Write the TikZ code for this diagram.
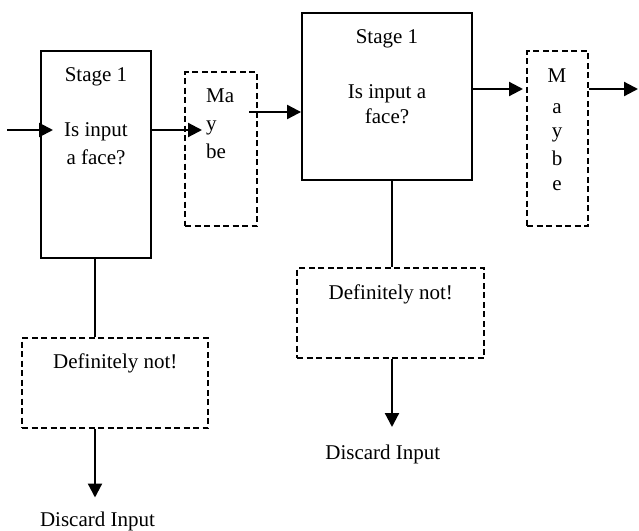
\documentclass[tikz,border=0pt]{standalone}
\usepackage{fontspec}
\setmainfont{Liberation Serif}
\usetikzlibrary{arrows.meta}
\begin{document}
\begin{tikzpicture}[x=1pt,y=-1pt,
  solidbox/.style={draw,line width=1.9pt,rectangle,inner sep=0pt},
  dashbox/.style={draw,line width=1.7pt,dash pattern=on 6pt off 3.5pt,rectangle,inner sep=0pt},
  lbl/.style={font=\fontsize{21}{25}\selectfont,inner sep=0pt,anchor=base},
  lblw/.style={lbl,anchor=base west},
  arr/.style={line width=2.2pt,-{Triangle[length=14pt,width=14pt]}},
  conn/.style={line width=1.4pt}]
\useasboundingbox (0,0) rectangle (639,530);
% boxes
\node[solidbox,minimum width=110pt,minimum height=207pt] (b1) at (96,154.5) {};
\node[solidbox,minimum width=170pt,minimum height=167pt] (b2) at (387,96.5) {};
\node[dashbox,minimum width=72pt,minimum height=154pt] (m1) at (221,149) {};
\node[dashbox,minimum width=61pt,minimum height=175pt] (m2) at (557.5,138.5) {};
\node[dashbox,minimum width=186pt,minimum height=90pt] (d1) at (115,383) {};
\node[dashbox,minimum width=187pt,minimum height=90pt] (d2) at (390.5,313) {};
% texts box 1
\node[lbl] (b1s) at (96,81.7) {Stage 1};
\node[lbl] (b1q) at (96,136.7) {Is input};
\node[lbl] (b1r) at (96,164) {a face?};
% texts box 2
\node[lbl] (b2s) at (387,43.3) {Stage 1};
\node[lbl] (b2q) at (387,98.3) {Is input a};
\node[lbl] (b2r) at (387,123.3) {face?};
% maybe 1
\node[lblw] (m1a) at (206,102.3) {Ma};
\node[lblw] (m1b) at (206,130) {y};
\node[lblw] (m1c) at (206,158.3) {be};
% maybe 2
\node[lbl] (m2a) at (557,82) {M};
\node[lbl] (m2b) at (557,113) {a};
\node[lbl] (m2c) at (557,137) {y};
\node[lbl] (m2d) at (557,165) {b};
\node[lbl] (m2e) at (557,190) {e};
% definitely not
\node[lbl] (d1t) at (115.3,368.3) {Definitely not!};
\node[lbl] (d2t) at (390.8,299.3) {Definitely not!};
% discard
\node[lbl] (x1) at (97.5,526.7) {Discard Input};
\node[lbl] (x2) at (382.8,459.3) {Discard Input};
% connectors
\coordinate (in) at (7,130);
\coordinate (t1) at (53,130);
\draw[arr] (in) -- (t1);
\coordinate (t2) at (202,130);
\draw[arr] (b1.east |- t2) -- (t2);
\coordinate (s3) at (249,112);
\draw[arr] (s3) -- (b2.west |- s3);
\coordinate (t4) at (523,89);
\draw[arr] (b2.east |- t4) -- (t4);
\coordinate (t5) at (638,89);
\draw[arr] (m2.east |- t5) -- (t5);
\coordinate (v1) at (95,0);
\draw[conn] (v1 |- b1.south) -- (v1 |- d1.north);
\coordinate (e1) at (95,497.5);
\draw[arr] (v1 |- d1.south) -- (e1);
\coordinate (v2) at (392,0);
\draw[conn] (v2 |- b2.south) -- (v2 |- d2.north);
\coordinate (e2) at (392,427);
\draw[arr] (v2 |- d2.south) -- (e2);
\end{tikzpicture}
\end{document}
